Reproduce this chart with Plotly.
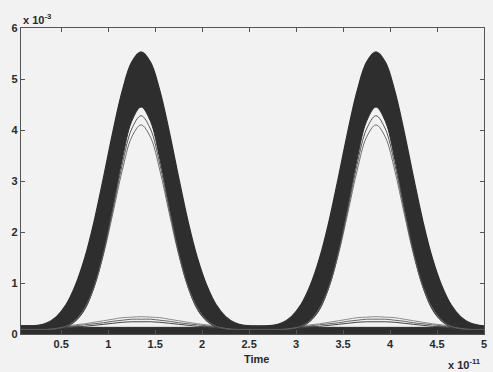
import plotly.graph_objects as go

# Sample instants (units of 1e-11 s)
time = [0.07, 0.15, 0.25, 0.35, 0.45, 0.55, 0.65, 0.75, 0.85, 0.95,
        1.05, 1.15, 1.25, 1.35, 1.45, 1.55, 1.65, 1.75, 1.85, 1.95,
        2.05, 2.15, 2.25, 2.35, 2.45, 2.55, 2.65, 2.75, 2.85, 2.95,
        3.05, 3.15, 3.25, 3.35, 3.45, 3.55, 3.65, 3.75, 3.85, 3.95,
        4.05, 4.15, 4.25, 4.35, 4.45, 4.55, 4.65, 4.75, 4.85, 4.95, 5.0]

# Upper edge of the "1" pulse bundle (units of 1e-3)
pulse_outer = [0.16, 0.16, 0.17, 0.22, 0.34, 0.57, 0.95, 1.49, 2.21, 3.07,
               3.97, 4.77, 5.33, 5.53, 5.33, 4.77, 3.97, 3.07, 2.21, 1.49,
               0.95, 0.57, 0.34, 0.22, 0.17, 0.16, 0.16, 0.17, 0.22, 0.34,
               0.57, 0.95, 1.49, 2.21, 3.07, 3.97, 4.77, 5.33, 5.53, 5.33,
               4.77, 3.97, 3.07, 2.21, 1.49, 0.95, 0.57, 0.34, 0.22, 0.17, 0.16]

# Lower edge of the dense part of the pulse bundle
pulse_inner = [0.10, 0.10, 0.10, 0.10, 0.10, 0.14, 0.25, 0.48, 0.92, 1.60,
               2.49, 3.43, 4.17, 4.45, 4.17, 3.43, 2.49, 1.60, 0.92, 0.48,
               0.25, 0.14, 0.10, 0.10, 0.10, 0.10, 0.10, 0.10, 0.10, 0.10,
               0.14, 0.25, 0.48, 0.92, 1.60, 2.49, 3.43, 4.17, 4.45, 4.17,
               3.43, 2.49, 1.60, 0.92, 0.48, 0.25, 0.14, 0.10, 0.10, 0.10, 0.10]

# Weakest "1" traces
pulse_low_a = [0.09, 0.09, 0.09, 0.09, 0.11, 0.15, 0.27, 0.51, 0.92, 1.56,
               2.37, 3.21, 3.86, 4.10, 3.86, 3.21, 2.37, 1.56, 0.92, 0.51,
               0.27, 0.15, 0.11, 0.09, 0.09, 0.09, 0.09, 0.09, 0.09, 0.11,
               0.15, 0.27, 0.51, 0.92, 1.56, 2.37, 3.21, 3.86, 4.10, 3.86,
               3.21, 2.37, 1.56, 0.92, 0.51, 0.27, 0.15, 0.11, 0.09, 0.09, 0.09]
pulse_low_b = [0.09, 0.09, 0.09, 0.09, 0.10, 0.15, 0.26, 0.50, 0.93, 1.59,
               2.45, 3.33, 4.02, 4.28, 4.02, 3.33, 2.45, 1.59, 0.93, 0.50,
               0.26, 0.15, 0.10, 0.09, 0.09, 0.09, 0.09, 0.09, 0.09, 0.10,
               0.15, 0.26, 0.50, 0.93, 1.59, 2.45, 3.33, 4.02, 4.28, 4.02,
               3.33, 2.45, 1.59, 0.93, 0.50, 0.26, 0.15, 0.10, 0.09, 0.09, 0.09]

# Top of the "0" baseline bundle
zero_top = [0.16, 0.16, 0.15, 0.15, 0.15, 0.14, 0.14, 0.13, 0.13, 0.13,
            0.13, 0.13, 0.13, 0.13, 0.13, 0.13, 0.13, 0.13, 0.13, 0.13,
            0.14, 0.14, 0.15, 0.15, 0.15, 0.15, 0.15, 0.15, 0.15, 0.15,
            0.14, 0.14, 0.13, 0.13, 0.13, 0.13, 0.13, 0.13, 0.13, 0.13,
            0.13, 0.13, 0.13, 0.13, 0.13, 0.14, 0.14, 0.15, 0.15, 0.15, 0.15]

# Residual bumps on the "0" traces
bump_a = [0.12, 0.12, 0.13, 0.13, 0.14, 0.16, 0.18, 0.20, 0.23, 0.26,
          0.29, 0.32, 0.33, 0.34, 0.33, 0.32, 0.29, 0.26, 0.23, 0.20,
          0.18, 0.16, 0.14, 0.13, 0.13, 0.12, 0.12, 0.13, 0.13, 0.14,
          0.16, 0.18, 0.20, 0.23, 0.26, 0.29, 0.32, 0.33, 0.34, 0.33,
          0.32, 0.29, 0.26, 0.23, 0.20, 0.18, 0.16, 0.14, 0.13, 0.13, 0.12]
bump_b = [0.11, 0.11, 0.12, 0.12, 0.13, 0.14, 0.16, 0.18, 0.20, 0.22,
          0.25, 0.27, 0.29, 0.29, 0.29, 0.27, 0.25, 0.22, 0.20, 0.18,
          0.16, 0.14, 0.13, 0.12, 0.12, 0.11, 0.11, 0.12, 0.12, 0.13,
          0.14, 0.16, 0.18, 0.20, 0.22, 0.25, 0.27, 0.29, 0.29, 0.29,
          0.27, 0.25, 0.22, 0.20, 0.18, 0.16, 0.14, 0.13, 0.12, 0.12, 0.11]
bump_c = [0.10, 0.10, 0.11, 0.11, 0.11, 0.12, 0.14, 0.15, 0.17, 0.19,
          0.21, 0.23, 0.24, 0.24, 0.24, 0.23, 0.21, 0.19, 0.17, 0.15,
          0.14, 0.12, 0.11, 0.11, 0.11, 0.10, 0.10, 0.11, 0.11, 0.11,
          0.12, 0.14, 0.15, 0.17, 0.19, 0.21, 0.23, 0.24, 0.24, 0.24,
          0.23, 0.21, 0.19, 0.17, 0.15, 0.14, 0.12, 0.11, 0.11, 0.11, 0.10]

x_ticks = [0.5, 1, 1.5, 2, 2.5, 3, 3.5, 4, 4.5, 5]
x_tick_text = ["0.5", "1", "1.5", "2", "2.5", "3", "3.5", "4", "4.5", "5"]
y_ticks = [0, 1, 2, 3, 4, 5, 6]
y_tick_text = ["0", "1", "2", "3", "4", "5", "6"]

INK = "#2e2e2e"
BG = "#f2f2f2"
FONT = dict(family="Liberation Sans, Arial, sans-serif", size=11, color="#2a2a2a", weight="bold")

fig = go.Figure()

# "0" baseline bundle
fig.add_trace(go.Scatter(x=time, y=zero_top, mode="lines", fill="tozeroy",
                         fillcolor=INK, line=dict(color=INK, width=1, shape="spline"),
                         hoverinfo="skip", showlegend=False))
for ys, col in [(bump_a, "#8c8c8c"), (bump_b, "#666666"), (bump_c, "#454545")]:
    fig.add_trace(go.Scatter(x=time, y=ys, mode="lines",
                             line=dict(color=col, width=1, shape="spline"),
                             hoverinfo="skip", showlegend=False))

# "1" pulse bundle
fig.add_trace(go.Scatter(x=time, y=pulse_inner, mode="lines",
                         line=dict(color=INK, width=1, shape="spline"),
                         hoverinfo="skip", showlegend=False))
fig.add_trace(go.Scatter(x=time, y=pulse_outer, mode="lines", fill="tonexty",
                         fillcolor=INK, line=dict(color=INK, width=1.2, shape="spline"),
                         hoverinfo="skip", showlegend=False))
for ys, col in [(pulse_low_a, "#6e6e6e"), (pulse_low_b, "#555555")]:
    fig.add_trace(go.Scatter(x=time, y=ys, mode="lines",
                             line=dict(color=col, width=1, shape="spline"),
                             hoverinfo="skip", showlegend=False))

axis_common = dict(showline=True, linecolor="#555555", linewidth=1.3, mirror="ticks",
                   ticks="inside", ticklen=4, tickcolor="#555555", tickwidth=1.3,
                   showgrid=False, zeroline=False, tickfont=FONT)

fig.update_layout(
    width=493, height=372,
    margin=dict(l=21, r=6, t=28, b=38),
    paper_bgcolor=BG, plot_bgcolor=BG,
    xaxis=dict(range=[0.072, 5.0], tickmode="array", tickvals=x_ticks,
               ticktext=x_tick_text, **axis_common),
    yaxis=dict(range=[0, 6], tickmode="array", tickvals=y_ticks,
               ticktext=y_tick_text, **axis_common),
    annotations=[
        dict(text="Time", x=0.509, y=-0.083, xref="paper", yref="paper",
             xanchor="center", yanchor="middle", showarrow=False, font=FONT),
        dict(text="x 10<sup>-11</sup>", x=0.997, y=-0.098, xref="paper", yref="paper",
             xanchor="right", yanchor="middle", showarrow=False, font=FONT),
        dict(text="x 10<sup>-3</sup>", x=0.0, y=1.03, xref="paper", yref="paper",
             xanchor="left", yanchor="middle", showarrow=False, font=FONT),
    ],
)

fig.write_html("out.html")
